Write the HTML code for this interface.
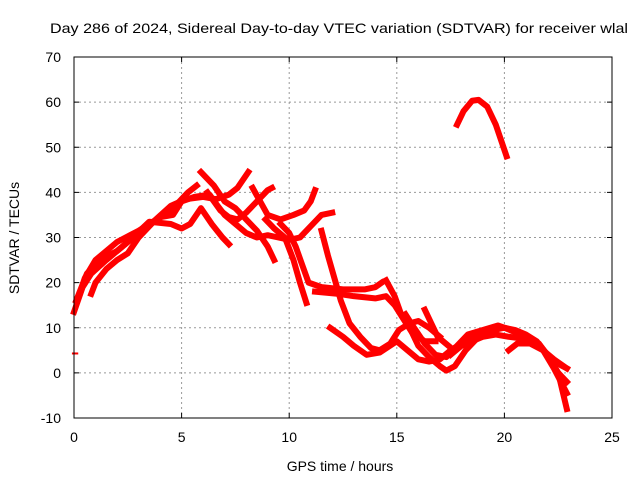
<!DOCTYPE html>
<html><head><meta charset="utf-8"><style>
body{margin:0;background:#fff;}
svg{display:block;font-family:"Liberation Sans",sans-serif;}
</style></head><body>
<svg id="chart" width="640" height="480" viewBox="0 0 640 480">
<rect width="640" height="480" fill="#fff"/>
<text x="50" y="33" font-size="14" textLength="578" lengthAdjust="spacingAndGlyphs" fill="#000">Day 286 of 2024, Sidereal Day-to-day VTEC variation (SDTVAR) for receiver wlal</text>
<g id="grid"></g>
<g id="marks"></g>
<rect x="74" y="57" width="538" height="361" fill="none" stroke="#000" stroke-width="1"/>
<g id="ticks"></g>
<text x="340" y="471" font-size="14" text-anchor="middle">GPS time / hours</text>
<text x="19" y="238" font-size="14" text-anchor="middle" transform="rotate(-90 19 238)">SDTVAR / TECUs</text>
</svg>
<script>
const xTicks=[0,5,10,15,20,25];
const yTicks=[-10,0,10,20,30,40,50,60,70];
const t1=[[0,13.5],[0.4,19],[0.8,22],[1.5,25],[2.5,29],[3.5,33.5],[4.5,33],[5,32],[5.4,33],[5.9,36.5],[6.4,33],[6.9,30],[7.2,28.5]];
const t2=[[0.1,16],[0.6,22],[1.2,25],[2,27],[3,31],[3.5,33],[4.2,35],[4.7,37],[5.3,40],[5.7,41.5]];
const t3=[[0.8,17.5],[1,20],[1.5,23],[2,25],[2.5,26.5],[3,30],[3.8,34],[4.5,37],[5.2,38.5],[6,39],[6.6,38.5],[7.2,39.5],[7.6,41],[8.1,44.5]];
const t4=[[0.3,18],[0.5,21],[1,25],[2,29],[3,31.5],[4,34.5],[4.6,35],[5,38],[5.6,39],[6.3,39.5],[6.6,37.5],[7,35],[7.5,33],[8,31],[8.5,30],[9,30.5],[9.5,30],[10,29.5],[10.5,30],[11,32.5],[11.5,35],[12,35.5]];
const t5=[[5.9,44.5],[6.5,41.5],[7,38],[7.5,36.5],[8,34],[8.5,31.5],[9,28],[9.3,25]];
const t6=[[6.2,40],[6.8,36],[7.2,34.5],[7.6,34],[8,35.5],[8.5,38],[9,40.5],[9.2,41]];
const t7=[[8.3,41],[9,35],[9.6,34],[10.2,35],[10.7,36],[11,38],[11.2,40.5]];
const t8=[[8.9,34],[9.3,32],[9.8,30],[10.2,25],[10.5,20],[10.8,15.5]];
const t9=[[9.6,33],[10,31],[10.3,28],[10.6,24],[10.9,20],[11.5,19],[12.5,18.5],[13.5,18.5],[14,19],[14.3,20]];
const t10=[[11.5,31.5],[11.8,26],[12.1,21],[12.4,16],[12.8,11],[13.3,8],[13.8,5.5],[14.2,5],[14.7,6.5],[15.1,9.5],[15.6,11],[16,11.5],[16.5,10],[17,8]];
const t11=[[11.2,18],[12.3,17.5],[13,17],[14,16.5],[14.5,17],[14.9,15],[15.3,12],[15.7,9],[16.3,7],[16.8,7]];
const t12=[[11.9,10],[12.5,8],[13,6],[13.6,4],[14.2,4.5],[15,7],[15.5,5],[16,3],[16.5,2.5],[17,3],[17.5,5],[18,6.5],[18.5,8],[19,9],[19.5,10],[20,10],[20.5,9.5],[21,8.5],[21.5,7],[22,4],[22.5,0],[22.9,-8]];
const t13=[[14.5,20.5],[14.9,17],[15.2,13],[15.6,10],[16,6],[16.5,3.5],[17,1.5],[17.3,0.5],[17.7,1.5],[18.2,5],[18.8,8],[19.5,9.5],[20,10],[20.5,9],[21.3,7],[21.8,5],[22.3,1],[22.9,-4.5]];
const t14=[[15.4,13],[15.8,10],[16.3,6.5],[16.8,4],[17.3,3.5],[17.8,6],[18.3,8.5],[19,9.5],[19.7,10.5],[20.3,9.5],[21,8],[21.6,6.5],[22,4],[22.5,2],[22.9,1]];
const t15=[[17.5,4],[18,6],[18.5,7],[19,8],[19.6,8.5],[20.2,8],[21,7.5],[21.6,6.5],[22.1,3],[22.5,0],[22.9,-2]];
const t16=[[20.2,5],[20.6,6.5],[21.2,6.5],[21.8,5],[22.3,3],[22.9,1]];
const t17=[[16.3,14],[16.6,11],[16.9,8],[17.4,6]];
const t18=[[17.8,55],[18.1,58],[18.5,60.3],[18.8,60.5],[19.2,59],[19.6,55],[20.1,48]];
const t19=[[-0.05,4.3],[0.15,4.3]];
const tracks=[t1,t2,t3,t4,t5,t6,t7,t8,t9,t10,t11,t12,t13,t14,t15,t16,t17,t18,t19];
const X=h=>74+h*(538/25);
const Y=v=>418-(v+10)*(361/80);
const NS='http://www.w3.org/2000/svg';
const grid=document.getElementById('grid'),ticks=document.getElementById('ticks'),marks=document.getElementById('marks');
function mk(tag,attrs,parent){const e=document.createElementNS(NS,tag);for(const k in attrs)e.setAttribute(k,attrs[k]);parent.appendChild(e);return e;}
xTicks.forEach(t=>{
  const x=X(t);
  if(t>0&&t<25){const g=mk('line',{x1:x,x2:x,y1:57,y2:418,stroke:'#999','stroke-dasharray':'2,3'},grid);
  
  }
  mk('line',{x1:x,x2:x,y1:418,y2:413,stroke:'#000'},ticks);
  mk('line',{x1:x,x2:x,y1:57,y2:62,stroke:'#000'},ticks);
  const l=mk('text',{x:x,y:442,'font-size':14,'text-anchor':'middle'},ticks);l.textContent=t;
  
  
});
yTicks.forEach(t=>{
  const y=Y(t);
  if(t>-10&&t<70){const g=mk('line',{x1:74,x2:612,y1:y,y2:y,stroke:'#999','stroke-dasharray':'2,3'},grid);
  
  }
  mk('line',{x1:74,x2:79,y1:y,y2:y,stroke:'#000'},ticks);
  mk('line',{x1:607,x2:612,y1:y,y2:y,stroke:'#000'},ticks);
  const l=mk('text',{x:61,y:y+5,'font-size':14,'text-anchor':'end'},ticks);l.textContent=t;
  
  
});
tracks.forEach((tr,i)=>{
  const p=mk('polyline',{points:tr.map(d=>X(d[0])+','+Y(d[1])).join(' '),fill:'none',stroke:'#f00','stroke-width':i===18?2:6,'stroke-linejoin':'round','stroke-linecap':'square'},marks);
  
  
});
</script>
</body></html>
